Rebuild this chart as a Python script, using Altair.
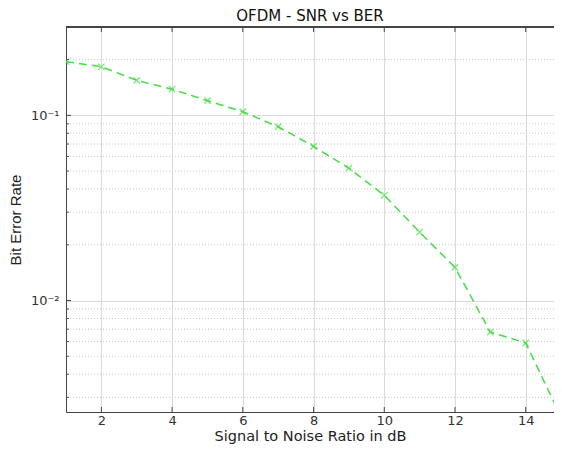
import altair as alt
import pandas as pd

snr_db = [1, 2, 3, 4, 5, 6, 7, 8, 9, 10, 11, 12, 13, 14, 15]
ber = [0.195, 0.183, 0.1545, 0.1384, 0.120, 0.1046, 0.0868, 0.068, 0.0518,
       0.037, 0.0234, 0.0151, 0.00675, 0.0059, 0.00235]

x_ticks = [2, 4, 6, 8, 10, 12, 14]
y_major = [0.01, 0.1]
y_minor = [0.003, 0.004, 0.005, 0.006, 0.007, 0.008, 0.009,
           0.02, 0.03, 0.04, 0.05, 0.06, 0.07, 0.08, 0.09, 0.2, 0.3]

df = pd.DataFrame({"snr": snr_db, "ber": ber})
df_xt = pd.DataFrame({"v": x_ticks})
df_minor = pd.DataFrame({"v": y_minor})
df_major = pd.DataFrame({"v": y_major})

W, H = 488, 385
FONT_H = "DejaVu Sans"
FONT_V = "Liberation Sans"
GREEN = "#44dd44"

xscale = alt.Scale(domain=[1, 14.8], nice=False, zero=False)
yscale = alt.Scale(type="log", domain=[0.0025, 0.3], nice=False)

minor_grid = alt.Chart(df_minor).mark_rule(
    color="#c8c8c8", strokeDash=[1, 2], strokeWidth=1
).encode(y=alt.Y("v:Q", scale=yscale))

minor_ticks = alt.Chart(df_minor).mark_rule(color="#555", strokeWidth=1).encode(
    y=alt.Y("v:Q", scale=yscale), x=alt.value(0), x2=alt.value(3)
)
major_yticks = alt.Chart(df_major).mark_rule(color="#444", strokeWidth=1).encode(
    y=alt.Y("v:Q", scale=yscale), x=alt.value(0), x2=alt.value(5)
)
x_ticks_bottom = alt.Chart(df_xt).mark_rule(color="#444", strokeWidth=1).encode(
    x=alt.X("v:Q", scale=xscale), y=alt.value(H), y2=alt.value(H - 5)
)
x_ticks_top = alt.Chart(df_xt).mark_rule(color="#444", strokeWidth=1).encode(
    x=alt.X("v:Q", scale=xscale), y=alt.value(0), y2=alt.value(5)
)
top_frame = alt.Chart(df_xt).mark_rule(color="#444", strokeWidth=1).encode(
    x=alt.value(0), x2=alt.value(W), y=alt.value(0)
)

line = alt.Chart(df).mark_line(
    color=GREEN, strokeDash=[8, 5], strokeWidth=1.5, clip=True
).encode(
    x=alt.X(
        "snr:Q", scale=xscale,
        axis=alt.Axis(
            title="Signal to Noise Ratio in dB", values=x_ticks, grid=True,
            gridColor="#d9d9d9", ticks=False, labelPadding=2,
            labelFontSize=13, titleFontSize=14.5, titleFontWeight="normal",
            labelColor="#333", titleColor="#222", labelFont=FONT_H,
            titleFont=FONT_H, domainColor="#444", titlePadding=2,
        ),
    ),
    y=alt.Y(
        "ber:Q", scale=yscale,
        axis=alt.Axis(
            title="Bit Error Rate", values=y_major, grid=True, gridColor="#d9d9d9",
            ticks=False, labelPadding=7,
            labelExpr="datum.value >= 0.05 ? '10⁻¹' : '10⁻²'",
            labelFontSize=13, titleFontSize=15, titleFontWeight="normal",
            labelColor="#333", titleColor="#222", labelFont=FONT_H,
            titleFont=FONT_V, domainColor="#444", titlePadding=7,
        ),
    ),
)

points = alt.Chart(df).mark_point(
    shape="M-1,-1L1,1M-1,1L1,-1", size=40, color=GREEN, filled=False,
    strokeWidth=1.3, clip=True
).encode(x=alt.X("snr:Q", scale=xscale), y=alt.Y("ber:Q", scale=yscale))

chart = alt.layer(
    minor_grid, line, points, minor_ticks, major_yticks, x_ticks_bottom,
    x_ticks_top, top_frame
).properties(
    width=W, height=H,
    title=alt.TitleParams(
        "OFDM - SNR vs BER", fontSize=15, font=FONT_H, fontWeight="normal",
        color="#111", offset=3,
    ),
    autosize=alt.AutoSizeParams(type="none"),
    padding={"left": 58, "top": 19, "right": 0, "bottom": 35},
).configure_view(stroke=None)

chart.save("out.html", embed_options={"renderer": "svg", "actions": False})
